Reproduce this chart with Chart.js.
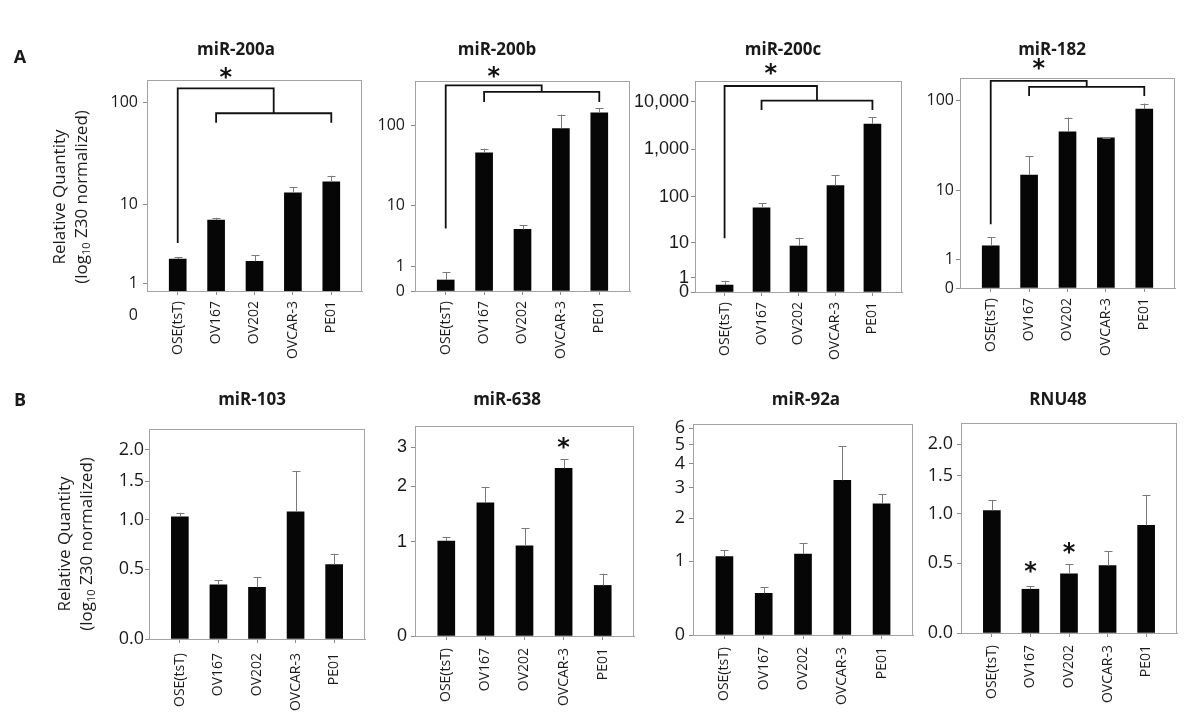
<!DOCTYPE html>
<html>
<head>
<meta charset="utf-8">
<script src="https://cdn.jsdelivr.net/npm/chart.js@4.4.1/dist/chart.umd.min.js"></script>
<style>
html,body{margin:0;padding:0;background:#fff;}
body{width:1200px;height:724px;position:relative;overflow:hidden;}
canvas{position:absolute;}
</style>
</head>
<body>
<script>
// ---------------- DATA ----------------
const categories = ['OSE(tsT)', 'OV167', 'OV202', 'OVCAR-3', 'PE01'];

// Panel A : relative quantity (mean) and upper error (SD)
const miR200a    = [2.39, 6.88, 2.23, 13.2, 17.0];
const miR200aErr = [0.15, 0.40, 0.45, 1.8, 2.5];
const miR200b    = [0.36, 46.5, 4.6, 92.8, 144];
const miR200bErr = [0.32, 6.1, 0.65, 44.8, 20];
const miR200c    = [0.40, 58.5, 8.3, 172, 3442];
const miR200cErr = [0.33, 14.2, 4.6, 113, 1321];
const miR182     = [1.82, 15.0, 45.3, 39.0, 79.8];
const miR182Err  = [0.67, 9.5, 19.6, 0.3, 12.1];

// Panel B
const miR103     = [1.03, 0.37, 0.35, 1.09, 0.54];
const miR103Err  = [0.05, 0.035, 0.08, 0.56, 0.10];
const miR638     = [1.01, 1.66, 0.94, 2.43, 0.45];
const miR638Err  = [0.06, 0.32, 0.27, 0.23, 0.13];
const miR92a     = [1.09, 0.48, 1.14, 3.28, 2.43];
const miR92aErr  = [0.13, 0.09, 0.23, 1.63, 0.34];
const RNU48      = [1.04, 0.29, 0.41, 0.48, 0.87];
const RNU48Err   = [0.13, 0.022, 0.08, 0.13, 0.36];

// tick values
const ticksA1       = [1, 10, 100];
const ticksLog100   = [0, 1, 10, 100];
const ticksLog10000 = [0, 1, 10, 100, 1000, 10000];
const ticksHalf     = [0, 0.5, 1, 1.5, 2];
const ticks638      = [0, 1, 2, 3];
const ticks92a      = [0, 1, 2, 3, 4, 5, 6];

// ---------------- STYLE / LAYOUT ----------------
const TEXT = '#1a1a1a';
const FRAME = '#a3a3a3';
const YW = 60, XH = 75;
const fmtInt = v => String(v);
const fmtComma = v => v.toLocaleString('en-US');
const fmt1 = v => v.toFixed(1);

const panels = [
  {title:'miR-200a', values:miR200a, errors:miR200aErr, ticks:ticksA1, min:0.698, max:161.6, zeroLabel:true,
   area:[147,80,362,291], canvas:[0,30,374,375], titleX:236, titleY:50, letter:{t:'A',x:20,y:58},
   yTitle:{x1:60,x2:82,y:197}, tickFont:'16px "Open Sans"', tickPad:5, fmt:fmtInt, xPad:6,
   bracket:{start:3.8, top:134.9, second:78.2, end:63.6, star:187}},
  {title:'miR-200b', values:miR200b, errors:miR200bErr, ticks:ticksLog100, min:0, max:353,
   area:[415,81,630,291], canvas:[345,30,642,375], titleX:497, titleY:50,
   tickFont:'16px "Open Sans"', tickPad:6, fmt:fmtInt, xPad:6,
   bracket:{start:4.75, top:313, second:259.6, end:196, star:454}},
  {title:'miR-200c', values:miR200c, errors:miR200cErr, ticks:ticksLog10000, min:0, max:27670,
   area:[695,81,902,292], canvas:[625,30,914,375], titleX:783, titleY:50,
   tickFont:'18px "Liberation Sans"', tickPad:2, fmt:fmtComma, xPad:6,
   bracket:{start:12.5, top:21727, second:10640, end:6790, star:50470}},
  {title:'miR-182', values:miR182, errors:miR182Err, ticks:ticksLog100, min:0, max:172.9,
   area:[960,78,1175,288], canvas:[890,30,1190,375], titleX:1052, titleY:50,
   tickFont:'16px "Open Sans"', tickPad:2, fmt:fmtInt, xPad:6,
   bracket:{start:3.8, top:160.8, second:138.6, end:110.9, star:246}},
  {title:'miR-103', values:miR103, errors:miR103Err, ticks:ticksHalf, min:0, max:2.38,
   area:[149,429,365,639], canvas:[0,378,377,724], titleX:252, titleY:400, letter:{t:'B',x:20,y:401},
   yTitle:{x1:65,x2:87,y:544}, tickFont:'18px "Open Sans"', tickPad:1, fmt:fmt1, xPad:10},
  {title:'miR-638', values:miR638, errors:miR638Err, ticks:ticks638, min:0, max:3.68,
   area:[415,426,634,636], canvas:[345,378,646,724], titleX:507, titleY:400,
   tickFont:'18px "Liberation Sans"', tickPad:4, fmt:fmtInt, xPad:8,
   stars:[{i:3, v:3.12}]},
  {title:'miR-92a', values:miR92a, errors:miR92aErr, ticks:ticks92a, min:0, max:6.27,
   area:[693,424,913,635], canvas:[623,378,925,724], titleX:806, titleY:400,
   tickFont:'18px "Open Sans"', tickPad:4, fmt:fmtInt, xPad:8},
  {title:'RNU48', values:RNU48, errors:RNU48Err, ticks:ticksHalf, min:0, max:2.394,
   area:[961,423,1177,633], canvas:[891,378,1190,724], titleX:1058, titleY:400,
   tickFont:'18px "Open Sans"', tickPad:4, fmt:fmt1, xPad:8,
   stars:[{i:1, v:0.472}, {i:2, v:0.637}]}
];

// ---------------- custom log(1+v) scale ----------------
class Log1pScale extends Chart.LinearScale {
  static id = 'log1p';
  static defaults = Chart.LinearScale.defaults;
  getPixelForValue(value) {
    const a = Math.log10(1 + this.min), b = Math.log10(1 + this.max);
    return this.getPixelForDecimal((Math.log10(1 + value) - a) / (b - a));
  }
  getValueForPixel(pixel) {
    const a = Math.log10(1 + this.min), b = Math.log10(1 + this.max);
    return Math.pow(10, a + this.getDecimalForPixel(pixel) * (b - a)) - 1;
  }
}
Chart.register(Log1pScale);

const panelByCanvas = new Map();

function drawStar(ctx, x, y) {
  ctx.save();
  ctx.font = 'bold 24px "DejaVu Sans"';
  ctx.fillStyle = '#111';
  ctx.textAlign = 'center';
  ctx.textBaseline = 'alphabetic';
  const m = ctx.measureText('*');
  const asc = m.actualBoundingBoxAscent, desc = m.actualBoundingBoxDescent;
  ctx.fillText('*', x, y + (asc - desc) / 2);
  ctx.restore();
}

function drawYTitle(ctx, x1, x2, y) {
  const big = '17px "Open Sans"', small = '11px "Open Sans"';
  ctx.save();
  ctx.fillStyle = TEXT;
  ctx.translate(x1, y); ctx.rotate(-Math.PI / 2);
  ctx.font = big; ctx.textAlign = 'center'; ctx.textBaseline = 'middle';
  ctx.fillText('Relative Quantity', 0, 0);
  ctx.restore();
  ctx.save();
  ctx.fillStyle = TEXT;
  ctx.translate(x2, y); ctx.rotate(-Math.PI / 2);
  ctx.font = big;
  const w1 = ctx.measureText('(log').width, w3 = ctx.measureText(' Z30 normalized)').width;
  ctx.font = small;
  const w2 = ctx.measureText('10').width;
  let x = -(w1 + w2 + w3) / 2;
  ctx.textAlign = 'left'; ctx.textBaseline = 'middle';
  ctx.font = big; ctx.fillText('(log', x, 0); x += w1;
  ctx.font = small; ctx.fillText('10', x, 5); x += w2;
  ctx.font = big; ctx.fillText(' Z30 normalized)', x, 0);
  ctx.restore();
}

const figPlugin = {
  id: 'figExtras',
  beforeDatasetsDraw(chart) {
    const a = chart.chartArea, ctx = chart.ctx;
    ctx.save();
    ctx.strokeStyle = FRAME; ctx.lineWidth = 1;
    ctx.strokeRect(Math.round(a.left) + 0.5, Math.round(a.top) + 0.5,
                   Math.round(a.right - a.left) - 1, Math.round(a.bottom - a.top));
    ctx.restore();
  },
  afterDatasetsDraw(chart) {
    const p = panelByCanvas.get(chart.canvas);
    const ctx = chart.ctx, xS = chart.scales.x, yS = chart.scales.y;
    const meta = chart.getDatasetMeta(0);
    // error bars
    ctx.save();
    ctx.strokeStyle = '#7a7a7a'; ctx.lineWidth = 1;
    meta.data.forEach((bar, i) => {
      const x = Math.round(bar.x) + 0.5;
      const yTop = yS.getPixelForValue(p.values[i] + p.errors[i]);
      ctx.beginPath();
      ctx.moveTo(x, bar.y); ctx.lineTo(x, yTop);
      ctx.moveTo(x - 4, Math.round(yTop) + 0.5); ctx.lineTo(x + 4, Math.round(yTop) + 0.5);
      ctx.stroke();
    });
    ctx.restore();
    // significance bracket
    if (p.bracket) {
      const b = p.bracket;
      const x0 = xS.getPixelForValue(0), x1 = xS.getPixelForValue(1), x4 = xS.getPixelForValue(4);
      const xm = (x1 + x4) / 2;
      ctx.save();
      ctx.strokeStyle = '#111'; ctx.lineWidth = 1.8; ctx.lineJoin = 'miter';
      ctx.beginPath();
      ctx.moveTo(x0, yS.getPixelForValue(b.start));
      ctx.lineTo(x0, yS.getPixelForValue(b.top));
      ctx.lineTo(xm, yS.getPixelForValue(b.top));
      ctx.lineTo(xm, yS.getPixelForValue(b.second));
      ctx.moveTo(x1, yS.getPixelForValue(b.end));
      ctx.lineTo(x1, yS.getPixelForValue(b.second));
      ctx.lineTo(x4, yS.getPixelForValue(b.second));
      ctx.lineTo(x4, yS.getPixelForValue(b.end));
      ctx.stroke();
      ctx.restore();
      drawStar(ctx, (x0 + xm) / 2, yS.getPixelForValue(b.star));
    }
    (p.stars || []).forEach(s => drawStar(ctx, xS.getPixelForValue(s.i), yS.getPixelForValue(s.v)));
  },
  afterDraw(chart) {
    const p = panelByCanvas.get(chart.canvas);
    const ctx = chart.ctx, ox = p.canvas[0], oy = p.canvas[1];
    ctx.save();
    ctx.fillStyle = TEXT;
    ctx.font = 'bold 17px "Open Sans"';
    ctx.textAlign = 'center'; ctx.textBaseline = 'middle';
    ctx.fillText(p.title, p.titleX - ox, p.titleY - oy);
    if (p.letter) {
      ctx.font = 'bold 18px "Open Sans"';
      ctx.fillText(p.letter.t, p.letter.x - ox, p.letter.y - oy);
    }
    if (p.zeroLabel) {
      const yS = chart.scales.y;
      ctx.font = p.tickFont; ctx.textAlign = 'right';
      ctx.fillText('0', yS.right - 4 - p.tickPad, yS.getPixelForValue(0));
    }
    ctx.restore();
    if (p.yTitle) drawYTitle(ctx, p.yTitle.x1 - ox, p.yTitle.x2 - ox, p.yTitle.y - oy);
  }
};

panels.forEach((p, idx) => {
  const [cl, ct, cr, cb] = p.canvas;
  const [al, at, ar, ab] = p.area;
  const cv = document.createElement('canvas');
  cv.width = cr - cl; cv.height = cb - ct;
  cv.style.left = cl + 'px'; cv.style.top = ct + 'px';
  cv.style.width = (cr - cl) + 'px'; cv.style.height = (cb - ct) + 'px';
  document.body.appendChild(cv);
  panelByCanvas.set(cv, p);
  const family = p.tickFont.replace(/^[0-9]+px\s*/, '').replace(/"/g, '');
  const size = parseInt(p.tickFont, 10);
  new Chart(cv, {
    type: 'bar',
    data: {
      datasets: [{
        data: p.values.map((v, i) => ({x: i, y: v})),
        backgroundColor: '#060606',
        barThickness: 17,
        clip: 0
      }]
    },
    options: {
      responsive: false,
      animation: false,
      devicePixelRatio: 1,
      layout: {padding: {left: al - cl - YW, top: at - ct, right: cr - ar, bottom: cb - ab - XH}},
      plugins: {legend: {display: false}, tooltip: {enabled: false}, title: {display: false}},
      scales: {
        x: {
          type: 'linear', min: -0.8, max: 4.8, bounds: 'data', offset: false,
          afterBuildTicks: s => { s.ticks = categories.map((c, i) => ({value: i})); },
          afterFit: s => { s.height = XH; },
          ticks: {autoSkip: false, maxRotation: 90, minRotation: 90, padding: p.xPad,
                  color: TEXT, font: {family: 'Open Sans', size: 14},
                  callback: v => categories[v]},
          grid: {display: true, offset: false, drawOnChartArea: false, drawTicks: true, tickLength: 4, color: '#8c8c8c'},
          border: {display: true, color: FRAME, width: 1}
        },
        y: {
          type: 'log1p', min: p.min, max: p.max, bounds: 'data', offset: false,
          afterBuildTicks: s => { s.ticks = p.ticks.map(v => ({value: v})); },
          afterFit: s => { s.width = YW; },
          ticks: {autoSkip: false, padding: p.tickPad, color: TEXT,
                  font: {family: family, size: size}, callback: v => p.fmt(v)},
          grid: {display: true, drawOnChartArea: false, drawTicks: true, tickLength: 4, color: '#8c8c8c'},
          border: {display: true, color: FRAME, width: 1}
        }
      }
    },
    plugins: [figPlugin]
  });
});
</script>
</body>
</html>
